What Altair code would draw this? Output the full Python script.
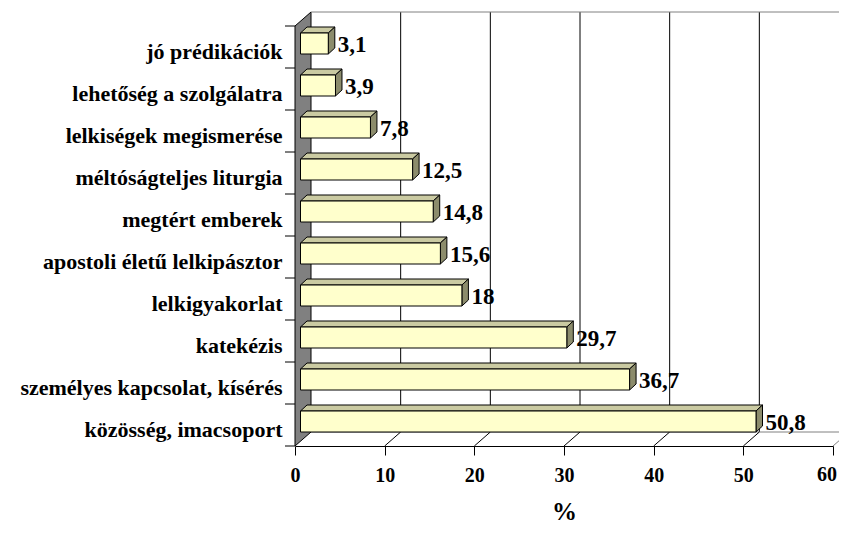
import json
import altair as alt
import pandas as pd

# ---- data (top to bottom as displayed) ----
categories = ["jó prédikációk", "lehetőség a szolgálatra", "lelkiségek megismerése",
              "méltóságteljes liturgia", "megtért emberek", "apostoli életű lelkipásztor",
              "lelkigyakorlat", "katekézis", "személyes kapcsolat, kísérés",
              "közösség, imacsoport"]
values = [3.1, 3.9, 7.8, 12.5, 14.8, 15.6, 18, 29.7, 36.7, 50.8]
value_labels = ["3,1", "3,9", "7,8", "12,5", "14,8", "15,6", "18", "29,7", "36,7", "50,8"]
x_ticks = [0, 10, 20, 30, 40, 50, 60]

# ---- geometry (pixels -> data units) ----
W, H = 538, 420
NROW = len(categories)
ROWPX = H / NROW
UX = 60 / W
UY = 1 / ROWPX
DX, DY = 16 * UX, 14 * UY          # depth of the 3D box
FX = 5.5 * UX                      # bar front-face x shift
BX = 12 * UX                       # bar back-face x shift
FB, FT = 14 * UY, 35 * UY          # front face bottom/top within row
BB, BT = 20 * UY, 41 * UY          # back face bottom/top within row
TICK, LPAD = 9, 10

FONT = "Liberation Serif"
FRONT = "#FFFFCC"
TOPC = "#CACAA2"
SIDEC = "#8C8C6C"

xs = alt.Scale(domain=[0, 60], nice=False, zero=False)
ys = alt.Scale(domain=[0, NROW], nice=False, zero=False)

names_by_row = categories[::-1]
label_expr = json.dumps(names_by_row, ensure_ascii=False) + "[floor(datum.value)]"
last_tick = x_ticks[-1]

x_axis = alt.Axis(values=x_ticks, grid=False, tickSize=TICK, tickColor="black",
                  domainColor="black", labelFont=FONT, labelFontSize=20,
                  labelFontWeight="bold", labelColor="black", labelPadding=LPAD,
                  labelFlush=False,
                  labelExpr=f"datum.value == {last_tick} ? '' : datum.label",
                  title="%", titleFont=FONT, titleFontSize=25,
                  titleFontWeight="bold", titleColor="black", titlePadding=14)
y_axis = alt.Axis(values=[r + 0.4 for r in range(NROW)], labelExpr=label_expr,
                  ticks=False, tickSize=0, domain=False, grid=False, labelPadding=13,
                  title=None, labelFont=FONT, labelFontSize=22, labelFontWeight="bold",
                  labelColor="black", labelLimit=400)


def X(f):
    return alt.X(f, type="quantitative", scale=xs, axis=x_axis, title="%")


def Y(f):
    return alt.Y(f, type="quantitative", scale=ys, axis=y_axis, title=None)


rows = [NROW - 1 - i for i in range(NROW)]
bars = pd.DataFrame({"name": categories, "v": values, "lab": value_labels, "r": rows})
bars["x0"] = FX
bars["x1"] = bars["v"] + FX
bars["y0"] = bars["r"] + FB
bars["y1"] = bars["r"] + FT
bars["xt"] = bars["v"] + BX
bars["yt"] = bars["r"] + 23 * UY

top_rows, side_rows = [], []
for name, v, r in zip(categories, values, rows):
    top_rows.append({"name": name, "y": r + FT, "x": FX, "x2": v + FX})
    top_rows.append({"name": name, "y": r + BT, "x": BX, "x2": v + BX})
    side_rows.append({"name": name, "x": v + FX, "y": r + FB, "y2": r + FT})
    side_rows.append({"name": name, "x": v + BX, "y": r + BB, "y2": r + BT})
top_df = pd.DataFrame(top_rows)
side_df = pd.DataFrame(side_rows)

# left wall
wall_df = pd.DataFrame({"x": [0, DX], "y": [0, DY], "y2": [NROW, NROW + DY]})
wall = alt.Chart(wall_df).mark_area(orient="vertical", fill="#808080", stroke="black",
                                    strokeWidth=1).encode(x=X("x"), y=Y("y"), y2="y2")

# back wall gridlines
grid_df = pd.DataFrame({"x": [k + DX for k in x_ticks[1:]]})
grid_df["y"] = DY
grid_df["y2"] = NROW + DY
grid = alt.Chart(grid_df).mark_rule(color="black", strokeWidth=1).encode(
    x=X("x"), y=Y("y"), y2="y2")

# gray edges of the box
edge_df = pd.DataFrame({
    "x": [DX, DX, 60],
    "x2": [60 + DX, 60 + DX, 60 + DX],
    "y": [NROW + DY, DY, 0],
    "y2": [NROW + DY, DY, DY],
})
edges = alt.Chart(edge_df).mark_rule(color="#808080", strokeWidth=1).encode(
    x=X("x"), x2="x2", y=Y("y"), y2="y2")

# floor diagonals
floor_df = pd.DataFrame({"x": x_ticks[1:-1]})
floor_df["x2"] = floor_df["x"] + DX
floor_df["y"] = 0.0
floor_df["y2"] = DY
floor = alt.Chart(floor_df).mark_rule(color="black", strokeWidth=1).encode(
    x=X("x"), x2="x2", y=Y("y"), y2="y2")

# y-axis ticks at row boundaries
ytick_df = pd.DataFrame({"y": list(range(NROW + 1))})
yticks = alt.Chart(ytick_df).mark_rule(color="black", strokeWidth=1).encode(
    x=alt.value(-10), x2=alt.value(0), y=Y("y"))

# bar faces
top_face = alt.Chart(top_df).mark_area(orient="horizontal", fill=TOPC, stroke="black",
                                       strokeWidth=1).encode(
    y=Y("y"), x=X("x"), x2="x2", detail="name:N")
side_face = alt.Chart(side_df).mark_area(orient="vertical", fill=SIDEC, stroke="black",
                                         strokeWidth=1).encode(
    x=X("x"), y=Y("y"), y2="y2", detail="name:N")

front = alt.Chart(bars).mark_rect(fill=FRONT, stroke="black", strokeWidth=1).encode(
    x=X("x0"), x2="x1", y=Y("y0"), y2="y1")

texts = alt.Chart(bars).mark_text(align="left", baseline="middle", dx=3, font=FONT,
                                  fontSize=23, fontWeight="bold", color="black").encode(
    x=X("xt"), y=Y("yt"), text="lab:N")

# last x tick label, nudged so it stays inside the canvas
last_df = pd.DataFrame({"x": [last_tick], "t": [str(last_tick)]})
last_label = alt.Chart(last_df).mark_text(align="center", baseline="top", dx=-6,
                                          font=FONT, fontSize=20, fontWeight="bold",
                                          color="black").encode(
    x=X("x"), y=alt.value(H + TICK + LPAD), text="t:N")

chart = alt.layer(wall, grid, edges, floor, yticks, top_face, side_face, front, texts,
                  last_label).properties(
    width=W, height=H,
    padding={"left": 287, "top": 18, "right": 6, "bottom": 80},
    autosize=alt.AutoSizeParams(type="none"),
    background="white",
).configure_view(stroke=None)

chart.save("out.html", embed_options={"renderer": "svg", "actions": False})
